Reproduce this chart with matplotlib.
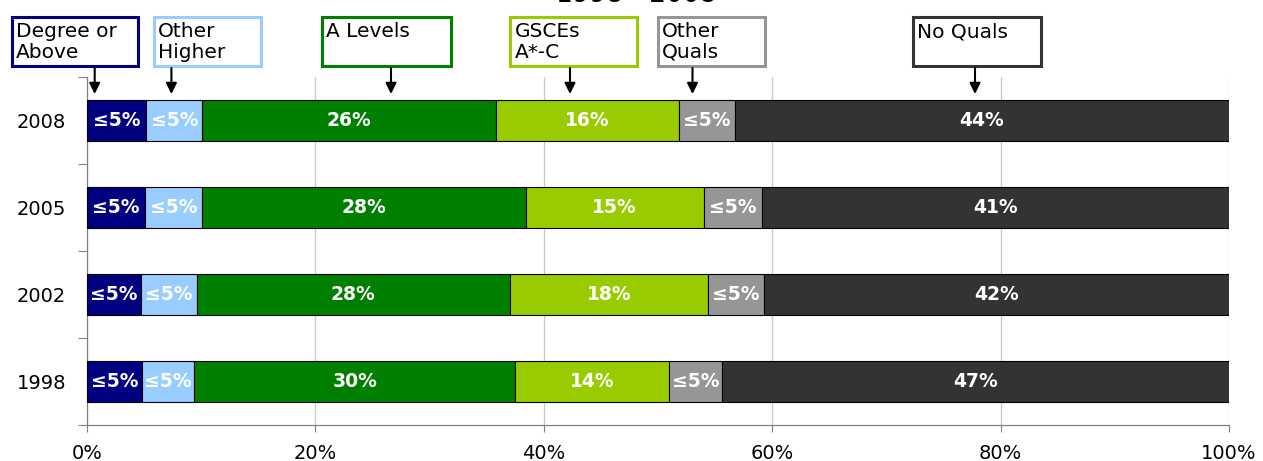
import matplotlib
matplotlib.use("Agg")
import matplotlib.pyplot as plt
import matplotlib.patches as mpatches
from matplotlib.ticker import FixedLocator

# ---------------- data ----------------
years = ['1998', '2002', '2005', '2008']
degree = [4.8, 4.7, 5.1, 5.2]
other_higher = [4.6, 4.9, 5.0, 4.9]
a_levels = [28.1, 27.4, 28.3, 25.7]
gcse = [13.5, 17.4, 15.6, 16.0]
other_quals = [4.6, 4.9, 5.1, 4.9]
no_quals = [44.4, 40.7, 40.9, 43.3]

degree_lbl = ['≤5%', '≤5%', '≤5%', '≤5%']
other_higher_lbl = ['≤5%', '≤5%', '≤5%', '≤5%']
a_levels_lbl = ['30%', '28%', '28%', '26%']
gcse_lbl = ['14%', '18%', '15%', '16%']
other_quals_lbl = ['≤5%', '≤5%', '≤5%', '≤5%']
no_quals_lbl = ['47%', '42%', '41%', '44%']

series_names = ['Degree or\nAbove', 'Other\nHigher', 'A Levels', 'GSCEs\nA*-C', 'Other\nQuals', 'No Quals']
x_ticks = [0, 20, 40, 60, 80, 100]
x_tick_labels = ['0%', '20%', '40%', '60%', '80%', '100%']
title_text = '1998 - 2008'

# ---------------- style ----------------
colors = ['#000080', '#99CCFF', '#008000', '#99CC00', '#969696', '#333333']
series = [degree, other_higher, a_levels, gcse, other_quals, no_quals]
labels = [degree_lbl, other_higher_lbl, a_levels_lbl, gcse_lbl, other_quals_lbl, no_quals_lbl]

plt.rcParams['font.family'] = ['DejaVu Sans']

W, H = 1263, 461
fig = plt.figure(figsize=(W / 100, H / 100), dpi=100)
ax = fig.add_axes([87 / W, 1 - 425 / H, (1229 - 87) / W, (425 - 77) / H])

ypos = list(range(len(years)))
left = [0.0] * len(years)
for vals, col, lbls in zip(series, colors, labels):
    ax.barh(ypos, vals, left=left, height=0.46, color=col,
            edgecolor='black', linewidth=0.8, zorder=3)
    for i, (v, l, t) in enumerate(zip(vals, left, lbls)):
        ax.text(l + v / 2, ypos[i], t, ha='center', va='center',
                color='white', fontweight='bold', fontsize=13.5, zorder=4)
    left = [a + b for a, b in zip(left, vals)]

ax.set_xlim(0, 100)
ax.set_ylim(-0.5, len(years) - 0.5)
ax.set_xticks(x_ticks)
ax.set_xticklabels(x_tick_labels, fontsize=14)
ax.set_yticks(ypos)
ax.set_yticklabels(years, fontsize=14)
ax.yaxis.set_minor_locator(FixedLocator([i - 0.5 for i in range(len(years) + 1)]))
ax.tick_params(axis='y', which='major', length=0, pad=15)
ax.tick_params(axis='y', which='minor', length=6.5, width=0.8, color='#808080')
ax.tick_params(axis='x', which='major', length=5, width=0.8, color='#808080', pad=9)

ax.grid(axis='x', color='#C8C8C8', linewidth=0.9, zorder=0)
for s in ['top', 'right']:
    ax.spines[s].set_visible(False)
for s in ['left', 'bottom']:
    ax.spines[s].set_color('#808080')
    ax.spines[s].set_linewidth(0.9)

# title (mostly cut off at the top edge, as in the reference)
fig.text(636 / W, 1 - 2.5 / H, title_text, ha='center', va='baseline', fontsize=19)

# callout boxes with arrows
box_px = [(10, 139, 94.7), (152, 262, 171.4), (320, 452, 391),
          (509, 638, 570), (656, 766, 692.5), (911, 1042, 975)]
y0, y1 = 16, 68
for name, col, (bx0, bx1, ax_x) in zip(series_names, colors, box_px):
    rect = mpatches.Rectangle(((bx0 + 1.5) / W, 1 - (y1 - 1.5) / H),
                              (bx1 - bx0 - 3) / W, (y1 - y0 - 3) / H,
                              transform=fig.transFigure, facecolor='white',
                              edgecolor=col, linewidth=2.2)
    fig.add_artist(rect)
    fig.text((bx0 + 6) / W, 1 - (y0 + 6) / H, name, ha='left', va='top',
             fontsize=14.5, linespacing=1.1)
    fig.add_artist(mpatches.FancyArrowPatch(
        (ax_x / W, 1 - y1 / H), (ax_x / W, 1 - 94 / H),
        transform=fig.transFigure, arrowstyle='-|>', mutation_scale=16,
        color='black', linewidth=1.5, shrinkA=0, shrinkB=0))

fig.savefig('out.png', dpi=100)
